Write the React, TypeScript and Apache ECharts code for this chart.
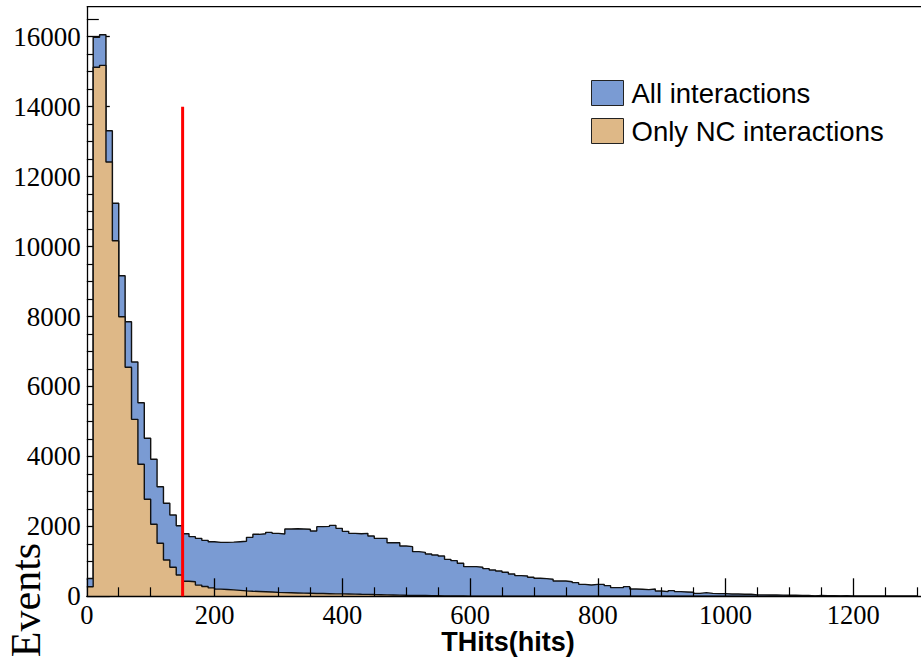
import React, { useEffect, useRef } from 'react';
import * as echarts from 'echarts';

// Histogram bin width (hits) and bin contents, bins start at 0
const BIN_WIDTH = 10;

const allInteractions = [
  510, 15983, 16057, 13312, 11236, 9166, 7851, 6699, 5535, 4517,
  3917, 3134, 2659, 2324, 2019, 1790, 1705, 1657, 1600, 1560,
  1543, 1543, 1548, 1560, 1572, 1686, 1772, 1790, 1829, 1800,
  1781, 1924, 1930, 1924, 1915, 1867, 1991, 2000, 2029, 1943,
  1857, 1800, 1790, 1800, 1724, 1657, 1657, 1533, 1533, 1438,
  1419, 1276, 1257, 1209, 1181, 1152, 1057, 1019, 943, 848,
  848, 829, 791, 753, 724, 686, 638, 591, 581, 543,
  514, 505, 486, 438, 438, 418, 390, 342, 323, 342,
  342, 304, 247, 247, 276, 209, 200, 190, 209, 152,
  133, 162, 133, 123, 114, 85, 104, 85, 76, 76,
  66, 66, 57, 57, 40, 40, 38, 36, 34, 32,
  30, 26, 24, 10, 22, 20, 20, 8, 20, 5,
  4, 3, 2, 3, 1, 2, 1, 0, 1, 0,
];

const ncInteractions = [
  274, 15125, 15181, 12417, 10167, 7994, 6547, 5060, 3774, 2773,
  2058, 1515, 1038, 829, 609, 430, 415, 320, 280, 240,
  205, 195, 185, 170, 155, 145, 138, 130, 122, 112,
  105, 100, 95, 90, 86, 82, 78, 74, 70, 68,
  66, 62, 58, 55, 50, 46, 42, 38, 34, 30,
  27, 24, 21, 18, 15, 12, 10, 8, 7, 6,
  5, 4, 4, 3, 3, 2, 2, 2, 1, 1,
  1, 1, 0, 1, 0, 0, 1, 0, 0, 0,
  0, 0, 0, 0, 0, 0, 0, 0, 0, 0,
  0, 0, 0, 0, 0, 0, 0, 0, 0, 0,
  0, 0, 0, 0, 0, 0, 0, 0, 0, 0,
  0, 0, 0, 0, 0, 0, 0, 0, 0, 0,
  0, 0, 0, 0, 0, 0, 0, 0, 0, 0,
];

const seriesNames = ['All interactions', 'Only NC interactions'];
const cutValue = 150;
const cutHeight = 14000;
const xTitle = 'THits(hits)';
const yTitle = 'Events';

const BLUE = '#7a9bd3';
const TAN = '#deb887';

function toSteps(vals: number[]): number[][] {
  const pts = vals.map((v, i) => [i * BIN_WIDTH, v]);
  pts.push([vals.length * BIN_WIDTH, 0]);
  return pts;
}

export default function App() {
  const ref = useRef<HTMLDivElement>(null);

  useEffect(() => {
    if (!ref.current) return;
    const chart = echarts.init(ref.current, undefined, { renderer: 'svg' });
    const serifFont = 'Liberation Serif';
    const sansFont = 'Liberation Sans';
    const option: any = {
      animation: false,
      backgroundColor: '#fff',
      grid: {
        left: 86.8,
        right: -60.1,
        top: -33.25,
        bottom: 62.7,
        containLabel: false,
        outerBoundsMode: 'none',
      },
      xAxis: {
        type: 'value',
        min: 0,
        max: 1400,
        interval: 200,
        z: 5,
        axisLine: { show: true, lineStyle: { color: '#000', width: 1.3 } },
        axisTick: { show: true, inside: true, length: 18, lineStyle: { color: '#000', width: 1.3 } },
        minorTick: { show: true, splitNumber: 4, length: 9, lineStyle: { color: '#000', width: 1.2 } },
        splitLine: { show: false },
        axisLabel: {
          margin: 5,
          fontFamily: serifFont,
          fontSize: 26.5,
          color: '#000',
          showMaxLabel: false,
          formatter: (v: number) => String(v),
        },
      },
      yAxis: {
        type: 'value',
        min: 0,
        max: 18000,
        interval: 2000,
        z: 0,
        axisLine: { show: true, lineStyle: { color: '#000', width: 1.3 } },
        axisTick: { show: true, inside: true, length: 23, lineStyle: { color: '#000', width: 1.3 } },
        minorTick: { show: true, splitNumber: 4, length: 12, lineStyle: { color: '#000', width: 1.2 } },
        splitLine: { show: false },
        axisLabel: {
          margin: 6,
          fontFamily: serifFont,
          fontSize: 27,
          color: '#000',
          padding: [5, 0, 0, 0],
          formatter: (v: number) => (v > 16000 ? '' : String(v)),
        },
      },
      legend: {
        orient: 'vertical',
        left: 591,
        top: 79,
        padding: 0,
        itemWidth: 32,
        itemHeight: 25,
        itemGap: 10,
        icon: 'rect',
        selectedMode: false,
        data: [
          { name: seriesNames[0], itemStyle: { color: BLUE, borderColor: '#222', borderWidth: 1 } },
          { name: seriesNames[1], itemStyle: { color: TAN, borderColor: '#222', borderWidth: 1 } },
        ],
        textStyle: {
          fontFamily: sansFont,
          fontSize: 27.5,
          color: '#000',
          lineHeight: 25,
          padding: [0, 0, 0, 3],
        },
      },
      series: [
        {
          name: seriesNames[0],
          type: 'line',
          step: 'end',
          data: toSteps(allInteractions),
          symbol: 'none',
          lineStyle: { color: '#111', width: 1.4 },
          itemStyle: { color: BLUE },
          areaStyle: { color: BLUE, opacity: 1 },
          z: 2,
        },
        {
          name: seriesNames[1],
          type: 'line',
          step: 'end',
          data: toSteps(ncInteractions),
          symbol: 'none',
          lineStyle: { color: '#111', width: 1.4 },
          itemStyle: { color: TAN },
          areaStyle: { color: TAN, opacity: 1 },
          z: 3,
        },
        {
          name: 'cut',
          type: 'line',
          data: [
            [cutValue, 0],
            [cutValue, cutHeight],
          ],
          symbol: 'none',
          lineStyle: { color: '#ff0000', width: 3 },
          z: 6,
        },
      ],
      graphic: [
        { type: 'rect', shape: { x: 0, y: 0, width: 921, height: 6 }, style: { fill: '#fff' }, z: 100 },
        {
          type: 'line',
          shape: { x1: 86.8, y1: 6.7, x2: 921, y2: 6.7 },
          style: { stroke: '#000', lineWidth: 1.3 },
          z: 101,
        },
        {
          type: 'text',
          x: 508,
          y: 642,
          style: {
            text: xTitle,
            fontFamily: sansFont,
            fontWeight: 'bold',
            fontSize: 27,
            fill: '#000',
            align: 'center',
            verticalAlign: 'middle',
          },
          z: 101,
        },
        {
          type: 'text',
          x: 26,
          y: 600,
          rotation: Math.PI / 2,
          style: {
            text: yTitle,
            fontFamily: serifFont,
            fontSize: 42,
            fill: '#000',
            align: 'center',
            verticalAlign: 'middle',
          },
          z: 101,
        },
      ],
    };
    chart.setOption(option);
    return () => chart.dispose();
  }, []);

  return (
    <div
      ref={ref}
      style={{ position: 'fixed', left: 0, top: 0, width: 921, height: 659, background: '#fff' }}
    />
  );
}
